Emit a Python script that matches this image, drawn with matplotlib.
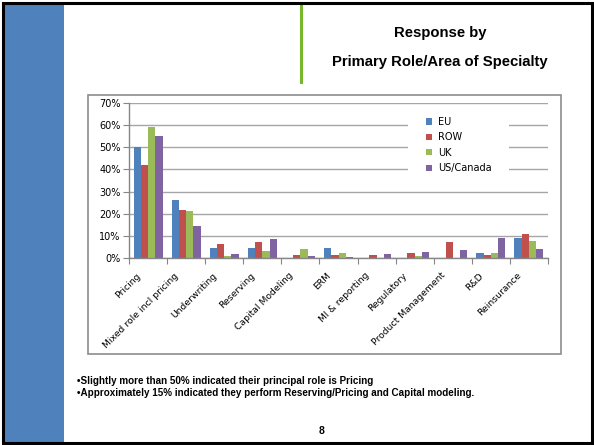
import numpy as np
import matplotlib
matplotlib.use("Agg")
import matplotlib.pyplot as plt
import matplotlib.transforms as mtransforms
from matplotlib.patches import Rectangle
from matplotlib.lines import Line2D
from matplotlib.ticker import PercentFormatter

# data (percent of respondents)
categories = ["Pricing", "Mixed role incl pricing", "Underwriting", "Reserving",
              "Capital Modeling", "ERM", "MI & reporting", "Regulatory",
              "Product Management", "R&D", "Reinsurance"]
eu = [50.0, 26.1, 4.4, 4.4, 0.0, 4.4, 0.0, 0.0, 0.0, 2.1, 8.9]
row = [42.0, 21.6, 6.2, 7.1, 1.2, 1.2, 1.2, 2.1, 7.1, 1.2, 10.7]
uk = [59.2, 21.1, 0.9, 3.0, 3.9, 2.2, 0.0, 0.8, 0.0, 2.1, 7.6]
us_canada = [55.1, 14.4, 1.7, 8.5, 0.8, 0.3, 1.7, 2.6, 3.5, 8.9, 3.9]
series_names = ["EU", "ROW", "UK", "US/Canada"]
series_colors = ["#4F81BD", "#C0504D", "#9BBB59", "#8064A2"]

W, H = 594, 445
fig = plt.figure(figsize=(W / 100, H / 100), dpi=100)


def fx(px):
    return px / W


def fy(py):
    return 1 - py / H


# slide decorations
fig.patches.append(Rectangle((fx(5), fy(442)), fx(64) - fx(5), fy(4) - fy(442),
                             transform=fig.transFigure, facecolor="#4F81BD",
                             edgecolor="none", zorder=-2))
fig.patches.append(Rectangle((fx(2.5), fy(442.5)), fx(592) - fx(2.5), fy(2.5) - fy(442.5),
                             transform=fig.transFigure, facecolor="none",
                             edgecolor="black", linewidth=2.2, zorder=5))
fig.lines.append(Line2D([fx(301), fx(301)], [fy(3), fy(82)], transform=fig.transFigure,
                        color="#76B82A", linewidth=2.2))
# chart frame
fig.patches.append(Rectangle((fx(87.5), fy(354)), fx(561) - fx(87.5), fy(95) - fy(354),
                             transform=fig.transFigure, facecolor="white",
                             edgecolor="#8C8C8C", linewidth=1.2, zorder=-1))

fig.text(fx(440), fy(33), "Response by", ha="center", va="center",
         fontsize=10.7, fontweight="bold", family="Liberation Sans")
fig.text(fx(440), fy(62), "Primary Role/Area of Specialty", ha="center", va="center",
         fontsize=10.7, fontweight="bold", family="Liberation Sans")

fig.text(fx(77), fy(381), "\u2022Slightly more than 50% indicated their principal role is Pricing",
         ha="left", va="center", fontsize=7.1, fontweight="bold", family="Liberation Sans")
fig.text(fx(77), fy(393), "\u2022Approximately 15% indicated they perform Reserving/Pricing and Capital modeling.",
         ha="left", va="center", fontsize=7.1, fontweight="bold", family="Liberation Sans")
fig.text(fx(322), fy(431), "8", ha="center", va="center",
         fontsize=7.5, fontweight="bold", family="Liberation Sans")

# bar chart
ax = fig.add_axes([fx(129), fy(257.7), fx(548) - fx(129), fy(103.3) - fy(257.7)])
ax.set_zorder(3)
ax.set_facecolor("none")
x = np.arange(len(categories))
bw = 0.19
all_series = [eu, row, uk, us_canada]
for i, (vals, name, col) in enumerate(zip(all_series, series_names, series_colors)):
    ax.bar(x + (i - 1.5) * bw, vals, bw, color=col, label=name, zorder=2)

ax.set_xlim(-0.5, len(categories) - 0.5)
ax.set_ylim(0, 70)
ax.set_yticks(np.arange(0, 71, 10))
ax.yaxis.set_major_formatter(PercentFormatter(decimals=0))
ax.grid(axis="y", color="#A6A6A6", linewidth=1.0, zorder=0)
ax.set_axisbelow(True)

ax.set_xticks(np.arange(-0.5, len(categories), 1.0))
ax.set_xticklabels([])
ax.set_xticks(x, minor=True)
ax.set_xticklabels(categories, minor=True, rotation=45, ha="right", va="center",
                   rotation_mode="anchor", fontsize=6.7)
ax.tick_params(axis="x", which="minor", length=0, pad=9)
ax.tick_params(axis="x", which="major", length=4, color="#868686")
ax.tick_params(axis="y", length=4, color="#868686", labelsize=7, pad=2)

# shift rotated labels so their ends sit left of the category centre, like Excel
shift = mtransforms.ScaledTranslation(-9 / 100, -4 / 100, fig.dpi_scale_trans)
for lab in ax.get_xticklabels(minor=True):
    lab.set_transform(lab.get_transform() + shift)

for side in ["top", "right"]:
    ax.spines[side].set_visible(False)
for side in ["left", "bottom"]:
    ax.spines[side].set_color("#868686")
    ax.spines[side].set_linewidth(1.0)

# white patch behind legend hides the grid there
ax.add_patch(Rectangle(((408 - 129) / 419, (257.7 - 180) / 154.4),
                       (509 - 408) / 419, (180 - 110) / 154.4,
                       transform=ax.transAxes, facecolor="white", edgecolor="none", zorder=1))
ax.legend(loc="upper left", bbox_to_anchor=(fx(426), fy(117)), bbox_transform=fig.transFigure,
          frameon=False, fontsize=7, handlelength=0.6, handleheight=0.6,
          handletextpad=0.6, labelspacing=0.55, borderpad=0, borderaxespad=0)

fig.savefig("out.png", dpi=100)
